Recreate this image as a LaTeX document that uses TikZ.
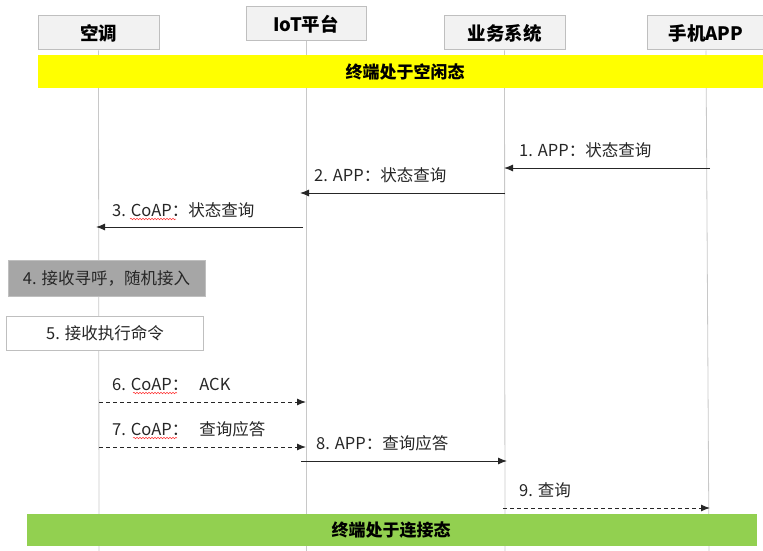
\documentclass[tikz,border=0pt]{standalone}
\usepackage{fontspec}
\setmainfont{Noto Sans CJK SC}
\usetikzlibrary{arrows.meta,decorations.pathmorphing}
\definecolor{hdrfill}{HTML}{F2F2F2}
\definecolor{hdrdraw}{HTML}{BFBFBF}
\definecolor{lifegray}{HTML}{C8C8C8}
\definecolor{ybar}{HTML}{FFFF00}
\definecolor{gbar}{HTML}{92D050}
\definecolor{graybox}{HTML}{A6A6A6}
\tikzset{
  hdr/.style={draw=hdrdraw, line width=1pt, fill=hdrfill, minimum height=34pt, inner sep=0pt, font=\fontsize{18.5}{20}\selectfont\bfseries},
  life/.style={draw=lifegray, line width=0.8pt},
  msg/.style={draw=black!85, line width=1pt, -{Latex[length=9pt,width=7pt]}},
  rmsg/.style={msg, dashed, dash pattern=on 4pt off 3pt},
  lbl/.style={anchor=west, inner sep=0pt, font=\fontsize{16.5}{18}\selectfont, text=black!85},
  bar/.style={minimum height=33pt, inner sep=0pt},
  bartxt/.style={inner sep=0pt, font=\fontsize{17}{19}\selectfont\bfseries},
  actbox/.style={draw=hdrdraw, line width=0.8pt, minimum width=197pt, minimum height=36pt, inner sep=0pt, font=\fontsize{16.5}{18}\selectfont, text=black!85},
  squig/.style={draw=red!80, line width=0.5pt, decorate, decoration={snake, amplitude=0.8pt, segment length=3pt}}
}
\begin{document}
\begin{tikzpicture}[x=1pt,y=-1pt]
\useasboundingbox (0,0) rectangle (763,551);
% headers
\node[hdr, minimum width=121pt] (h1) at (98.5,33) {空调};
\node[hdr, minimum width=120pt] (h2) at (306,24) {IoT平台};
\node[hdr, minimum width=121pt] (h3) at (504.5,33) {业务系统};
\node[hdr, minimum width=118pt] (h4) at (706,33) {手机APP};
% lifeline ends
\coordinate (e1) at (99,551);
\coordinate (e2) at (306,551);
\coordinate (e3) at (505,551);
\coordinate (e4) at (709,551);
\draw[life] (h1.south) -- (e1);
\draw[life] (h2.south) -- (e2);
\draw[life] (h3.south) -- (e3);
\draw[life] (h4.south) -- (e4);
% yellow bar
\node[bar, fill=ybar, minimum width=725pt] (yb) at (400.5,71.5) {};
\node[bartxt] (ybt) at (405,71.5) {终端处于空闲态};
% message 1
\coordinate (m1s) at (710,168);
\coordinate (m1e) at (504,168);
\draw[msg] (m1s) -- (m1e);
\node[lbl] (l1) at (519,150) {1. APP：状态查询};
% message 2
\coordinate (m2s) at (505,193);
\coordinate (m2e) at (300,193);
\draw[msg] (m2s) -- (m2e);
\node[lbl] (l2) at (314,175) {2. APP：状态查询};
% message 3
\coordinate (m3s) at (303,227);
\coordinate (m3e) at (96,227);
\draw[msg] (m3s) -- (m3e);
\node[lbl] (l3) at (112,210) {3. CoAP：状态查询};
\coordinate (s3a) at (130,219);
\coordinate (s3b) at (176,219);
\draw[squig] (s3a) -- (s3b);
% boxes
\node[actbox, fill=graybox] (b4) at (106.5,278.5) {4. 接收寻呼，随机接入};
\node[actbox, fill=white, minimum height=34pt] (b5) at (105,333) {5. 接收执行命令};
% message 6
\coordinate (m6s) at (99,402);
\coordinate (m6e) at (306,402);
\draw[rmsg] (m6s) -- (m6e);
\node[lbl] (l6) at (112,384) {6. CoAP：\hspace{11pt}ACK};
\coordinate (s6a) at (133,393);
\coordinate (s6b) at (177,393);
\draw[squig] (s6a) -- (s6b);
% message 7
\coordinate (m7s) at (99,447);
\coordinate (m7e) at (306,447);
\draw[rmsg] (m7s) -- (m7e);
\node[lbl] (l7) at (112,429) {7. CoAP：\hspace{11pt}查询应答};
\coordinate (s7a) at (133,438);
\coordinate (s7b) at (177,438);
\draw[squig] (s7a) -- (s7b);
% message 8
\coordinate (m8s) at (301,461);
\coordinate (m8e) at (507,461);
\draw[msg] (m8s) -- (m8e);
\node[lbl] (l8) at (316,443) {8. APP：查询应答};
% message 9
\coordinate (m9s) at (503,508);
\coordinate (m9e) at (710,508);
\draw[rmsg] (m9s) -- (m9e);
\node[lbl] (l9) at (519,490) {9. 查询};
% green bar
\node[bar, fill=gbar, minimum width=730pt, minimum height=32pt] (gb) at (392,530) {};
\node[bartxt] (gbt) at (391,530) {终端处于连接态};
\end{tikzpicture}
\end{document}
